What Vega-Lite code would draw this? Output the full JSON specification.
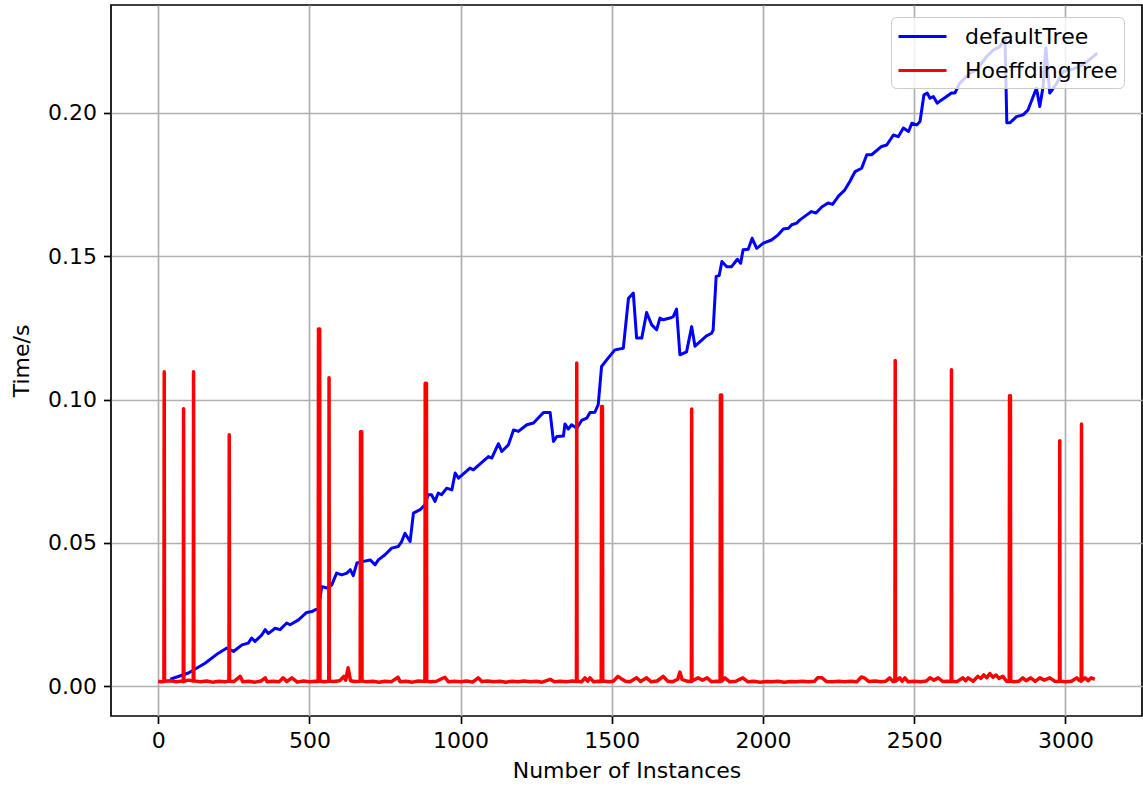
{
  "$schema": "https://vega.github.io/schema/vega-lite/v6.json",
  "autosize": {"type": "none"},
  "padding": {"left": 111, "top": 5, "right": 1, "bottom": 74},
  "width": 1031,
  "height": 711,
  "background": "white",
  "config": {
    "font": "DejaVu Sans",
    "view": {"stroke": "black", "strokeWidth": 1.7},
    "axis": {
      "domain": false,
      "grid": true,
      "gridColor": "#b0b0b0",
      "gridWidth": 1.7,
      "tickColor": "black",
      "tickWidth": 1.7,
      "tickSize": 7.5,
      "labelFont": "DejaVu Sans",
      "labelFontSize": 22,
      "labelColor": "black",
      "labelPadding": 7,
      "titleFont": "DejaVu Sans",
      "titleFontSize": 22,
      "titleFontWeight": "normal",
      "titleColor": "black"
    }
  },
  "datasets": {
    "defaultTree": [
      {"model": "defaultTree", "n": 40, "t": 0.0025},
      {"model": "defaultTree", "n": 100, "t": 0.0047},
      {"model": "defaultTree", "n": 155, "t": 0.0081},
      {"model": "defaultTree", "n": 199, "t": 0.0116},
      {"model": "defaultTree", "n": 227, "t": 0.0134},
      {"model": "defaultTree", "n": 249, "t": 0.0122},
      {"model": "defaultTree", "n": 277, "t": 0.0145},
      {"model": "defaultTree", "n": 298, "t": 0.0151},
      {"model": "defaultTree", "n": 309, "t": 0.0169},
      {"model": "defaultTree", "n": 320, "t": 0.0157},
      {"model": "defaultTree", "n": 343, "t": 0.0180},
      {"model": "defaultTree", "n": 354, "t": 0.0198},
      {"model": "defaultTree", "n": 364, "t": 0.0184},
      {"model": "defaultTree", "n": 387, "t": 0.0203},
      {"model": "defaultTree", "n": 403, "t": 0.0198},
      {"model": "defaultTree", "n": 425, "t": 0.0221},
      {"model": "defaultTree", "n": 436, "t": 0.0215},
      {"model": "defaultTree", "n": 464, "t": 0.0232},
      {"model": "defaultTree", "n": 491, "t": 0.0258},
      {"model": "defaultTree", "n": 508, "t": 0.0261},
      {"model": "defaultTree", "n": 530, "t": 0.0273},
      {"model": "defaultTree", "n": 541, "t": 0.0348},
      {"model": "defaultTree", "n": 558, "t": 0.0343},
      {"model": "defaultTree", "n": 574, "t": 0.0354},
      {"model": "defaultTree", "n": 590, "t": 0.0395},
      {"model": "defaultTree", "n": 607, "t": 0.0389},
      {"model": "defaultTree", "n": 624, "t": 0.0395},
      {"model": "defaultTree", "n": 635, "t": 0.0407},
      {"model": "defaultTree", "n": 645, "t": 0.0386},
      {"model": "defaultTree", "n": 657, "t": 0.0430},
      {"model": "defaultTree", "n": 679, "t": 0.0436},
      {"model": "defaultTree", "n": 701, "t": 0.0441},
      {"model": "defaultTree", "n": 717, "t": 0.0424},
      {"model": "defaultTree", "n": 728, "t": 0.0441},
      {"model": "defaultTree", "n": 750, "t": 0.0459},
      {"model": "defaultTree", "n": 772, "t": 0.0482},
      {"model": "defaultTree", "n": 794, "t": 0.0488},
      {"model": "defaultTree", "n": 805, "t": 0.0505},
      {"model": "defaultTree", "n": 816, "t": 0.0534},
      {"model": "defaultTree", "n": 833, "t": 0.0505},
      {"model": "defaultTree", "n": 844, "t": 0.0604},
      {"model": "defaultTree", "n": 866, "t": 0.0616},
      {"model": "defaultTree", "n": 882, "t": 0.0633},
      {"model": "defaultTree", "n": 893, "t": 0.0668},
      {"model": "defaultTree", "n": 904, "t": 0.0668},
      {"model": "defaultTree", "n": 915, "t": 0.0645},
      {"model": "defaultTree", "n": 926, "t": 0.0674},
      {"model": "defaultTree", "n": 937, "t": 0.0668},
      {"model": "defaultTree", "n": 954, "t": 0.0691},
      {"model": "defaultTree", "n": 971, "t": 0.0685},
      {"model": "defaultTree", "n": 982, "t": 0.0744},
      {"model": "defaultTree", "n": 993, "t": 0.0726},
      {"model": "defaultTree", "n": 1031, "t": 0.0761},
      {"model": "defaultTree", "n": 1042, "t": 0.0755},
      {"model": "defaultTree", "n": 1092, "t": 0.0801},
      {"model": "defaultTree", "n": 1103, "t": 0.0796},
      {"model": "defaultTree", "n": 1125, "t": 0.0846},
      {"model": "defaultTree", "n": 1136, "t": 0.0819},
      {"model": "defaultTree", "n": 1158, "t": 0.0842},
      {"model": "defaultTree", "n": 1175, "t": 0.0894},
      {"model": "defaultTree", "n": 1191, "t": 0.0889},
      {"model": "defaultTree", "n": 1219, "t": 0.0912},
      {"model": "defaultTree", "n": 1241, "t": 0.0918},
      {"model": "defaultTree", "n": 1274, "t": 0.0955},
      {"model": "defaultTree", "n": 1296, "t": 0.0955},
      {"model": "defaultTree", "n": 1307, "t": 0.0854},
      {"model": "defaultTree", "n": 1318, "t": 0.0871},
      {"model": "defaultTree", "n": 1340, "t": 0.0873},
      {"model": "defaultTree", "n": 1345, "t": 0.0915},
      {"model": "defaultTree", "n": 1356, "t": 0.0897},
      {"model": "defaultTree", "n": 1367, "t": 0.0912},
      {"model": "defaultTree", "n": 1384, "t": 0.0900},
      {"model": "defaultTree", "n": 1400, "t": 0.0927},
      {"model": "defaultTree", "n": 1417, "t": 0.0935},
      {"model": "defaultTree", "n": 1428, "t": 0.0955},
      {"model": "defaultTree", "n": 1444, "t": 0.0956},
      {"model": "defaultTree", "n": 1455, "t": 0.0982},
      {"model": "defaultTree", "n": 1466, "t": 0.1115},
      {"model": "defaultTree", "n": 1483, "t": 0.1138},
      {"model": "defaultTree", "n": 1510, "t": 0.1173},
      {"model": "defaultTree", "n": 1538, "t": 0.1179},
      {"model": "defaultTree", "n": 1555, "t": 0.1353},
      {"model": "defaultTree", "n": 1571, "t": 0.1371},
      {"model": "defaultTree", "n": 1582, "t": 0.1214},
      {"model": "defaultTree", "n": 1599, "t": 0.1214},
      {"model": "defaultTree", "n": 1615, "t": 0.1303},
      {"model": "defaultTree", "n": 1632, "t": 0.1260},
      {"model": "defaultTree", "n": 1648, "t": 0.1243},
      {"model": "defaultTree", "n": 1659, "t": 0.1284},
      {"model": "defaultTree", "n": 1670, "t": 0.1278},
      {"model": "defaultTree", "n": 1692, "t": 0.1284},
      {"model": "defaultTree", "n": 1703, "t": 0.1289},
      {"model": "defaultTree", "n": 1714, "t": 0.1315},
      {"model": "defaultTree", "n": 1725, "t": 0.1156},
      {"model": "defaultTree", "n": 1747, "t": 0.1166},
      {"model": "defaultTree", "n": 1764, "t": 0.1254},
      {"model": "defaultTree", "n": 1775, "t": 0.1186},
      {"model": "defaultTree", "n": 1813, "t": 0.1222},
      {"model": "defaultTree", "n": 1830, "t": 0.1231},
      {"model": "defaultTree", "n": 1835, "t": 0.1243},
      {"model": "defaultTree", "n": 1845, "t": 0.1429},
      {"model": "defaultTree", "n": 1855, "t": 0.1432},
      {"model": "defaultTree", "n": 1864, "t": 0.1481},
      {"model": "defaultTree", "n": 1880, "t": 0.1463},
      {"model": "defaultTree", "n": 1896, "t": 0.1463},
      {"model": "defaultTree", "n": 1915, "t": 0.1489},
      {"model": "defaultTree", "n": 1926, "t": 0.1475},
      {"model": "defaultTree", "n": 1934, "t": 0.1522},
      {"model": "defaultTree", "n": 1951, "t": 0.1524},
      {"model": "defaultTree", "n": 1964, "t": 0.1562},
      {"model": "defaultTree", "n": 1979, "t": 0.1527},
      {"model": "defaultTree", "n": 2001, "t": 0.1545},
      {"model": "defaultTree", "n": 2028, "t": 0.1556},
      {"model": "defaultTree", "n": 2050, "t": 0.1574},
      {"model": "defaultTree", "n": 2067, "t": 0.1594},
      {"model": "defaultTree", "n": 2084, "t": 0.1597},
      {"model": "defaultTree", "n": 2095, "t": 0.1609},
      {"model": "defaultTree", "n": 2111, "t": 0.1615},
      {"model": "defaultTree", "n": 2122, "t": 0.1626},
      {"model": "defaultTree", "n": 2140, "t": 0.1640},
      {"model": "defaultTree", "n": 2160, "t": 0.1655},
      {"model": "defaultTree", "n": 2175, "t": 0.1650},
      {"model": "defaultTree", "n": 2195, "t": 0.1672},
      {"model": "defaultTree", "n": 2215, "t": 0.1685},
      {"model": "defaultTree", "n": 2230, "t": 0.1680},
      {"model": "defaultTree", "n": 2250, "t": 0.1710},
      {"model": "defaultTree", "n": 2270, "t": 0.1730},
      {"model": "defaultTree", "n": 2287, "t": 0.1760},
      {"model": "defaultTree", "n": 2304, "t": 0.1794},
      {"model": "defaultTree", "n": 2326, "t": 0.1806},
      {"model": "defaultTree", "n": 2343, "t": 0.1853},
      {"model": "defaultTree", "n": 2359, "t": 0.1853},
      {"model": "defaultTree", "n": 2392, "t": 0.1882},
      {"model": "defaultTree", "n": 2409, "t": 0.1887},
      {"model": "defaultTree", "n": 2431, "t": 0.1922},
      {"model": "defaultTree", "n": 2447, "t": 0.1916},
      {"model": "defaultTree", "n": 2464, "t": 0.1946},
      {"model": "defaultTree", "n": 2481, "t": 0.1934},
      {"model": "defaultTree", "n": 2492, "t": 0.1963},
      {"model": "defaultTree", "n": 2508, "t": 0.1957},
      {"model": "defaultTree", "n": 2519, "t": 0.1969},
      {"model": "defaultTree", "n": 2532, "t": 0.2062},
      {"model": "defaultTree", "n": 2543, "t": 0.2068},
      {"model": "defaultTree", "n": 2552, "t": 0.2050},
      {"model": "defaultTree", "n": 2563, "t": 0.2056},
      {"model": "defaultTree", "n": 2576, "t": 0.2033},
      {"model": "defaultTree", "n": 2590, "t": 0.2044},
      {"model": "defaultTree", "n": 2607, "t": 0.2056},
      {"model": "defaultTree", "n": 2623, "t": 0.2068},
      {"model": "defaultTree", "n": 2634, "t": 0.2068},
      {"model": "defaultTree", "n": 2651, "t": 0.2103},
      {"model": "defaultTree", "n": 2684, "t": 0.2137},
      {"model": "defaultTree", "n": 2706, "t": 0.2149},
      {"model": "defaultTree", "n": 2739, "t": 0.2195},
      {"model": "defaultTree", "n": 2761, "t": 0.2218},
      {"model": "defaultTree", "n": 2783, "t": 0.2230},
      {"model": "defaultTree", "n": 2800, "t": 0.2259},
      {"model": "defaultTree", "n": 2806, "t": 0.1965},
      {"model": "defaultTree", "n": 2817, "t": 0.1965},
      {"model": "defaultTree", "n": 2838, "t": 0.1986},
      {"model": "defaultTree", "n": 2860, "t": 0.1992},
      {"model": "defaultTree", "n": 2876, "t": 0.2009},
      {"model": "defaultTree", "n": 2891, "t": 0.2050},
      {"model": "defaultTree", "n": 2904, "t": 0.2085},
      {"model": "defaultTree", "n": 2915, "t": 0.2021},
      {"model": "defaultTree", "n": 2926, "t": 0.2091},
      {"model": "defaultTree", "n": 2935, "t": 0.2226},
      {"model": "defaultTree", "n": 2948, "t": 0.2068},
      {"model": "defaultTree", "n": 2970, "t": 0.2100},
      {"model": "defaultTree", "n": 2992, "t": 0.2143},
      {"model": "defaultTree", "n": 3020, "t": 0.2150},
      {"model": "defaultTree", "n": 3058, "t": 0.2166},
      {"model": "defaultTree", "n": 3085, "t": 0.2190},
      {"model": "defaultTree", "n": 3105, "t": 0.2207}
    ],
    "hoeffdingTree": [
      {"model": "HoeffdingTree", "n": 0, "t": 0.0018},
      {"model": "HoeffdingTree", "n": 10, "t": 0.0016},
      {"model": "HoeffdingTree", "n": 19, "t": 0.0017},
      {"model": "HoeffdingTree", "n": 20, "t": 0.1097},
      {"model": "HoeffdingTree", "n": 21, "t": 0.0018},
      {"model": "HoeffdingTree", "n": 40, "t": 0.0020},
      {"model": "HoeffdingTree", "n": 60, "t": 0.0016},
      {"model": "HoeffdingTree", "n": 80, "t": 0.0019},
      {"model": "HoeffdingTree", "n": 83, "t": 0.0017},
      {"model": "HoeffdingTree", "n": 84, "t": 0.0968},
      {"model": "HoeffdingTree", "n": 85, "t": 0.0018},
      {"model": "HoeffdingTree", "n": 100, "t": 0.0022},
      {"model": "HoeffdingTree", "n": 116, "t": 0.0019},
      {"model": "HoeffdingTree", "n": 117, "t": 0.1097},
      {"model": "HoeffdingTree", "n": 118, "t": 0.0020},
      {"model": "HoeffdingTree", "n": 140, "t": 0.0016},
      {"model": "HoeffdingTree", "n": 160, "t": 0.0019},
      {"model": "HoeffdingTree", "n": 180, "t": 0.0015},
      {"model": "HoeffdingTree", "n": 200, "t": 0.0018},
      {"model": "HoeffdingTree", "n": 220, "t": 0.0016},
      {"model": "HoeffdingTree", "n": 234, "t": 0.0019},
      {"model": "HoeffdingTree", "n": 235, "t": 0.0877},
      {"model": "HoeffdingTree", "n": 236, "t": 0.0018},
      {"model": "HoeffdingTree", "n": 250, "t": 0.0017},
      {"model": "HoeffdingTree", "n": 271, "t": 0.0035},
      {"model": "HoeffdingTree", "n": 280, "t": 0.0016},
      {"model": "HoeffdingTree", "n": 300, "t": 0.0018},
      {"model": "HoeffdingTree", "n": 320, "t": 0.0015},
      {"model": "HoeffdingTree", "n": 340, "t": 0.0019},
      {"model": "HoeffdingTree", "n": 354, "t": 0.0030},
      {"model": "HoeffdingTree", "n": 360, "t": 0.0016},
      {"model": "HoeffdingTree", "n": 380, "t": 0.0018},
      {"model": "HoeffdingTree", "n": 400, "t": 0.0016},
      {"model": "HoeffdingTree", "n": 413, "t": 0.0030},
      {"model": "HoeffdingTree", "n": 425, "t": 0.0017},
      {"model": "HoeffdingTree", "n": 442, "t": 0.0030},
      {"model": "HoeffdingTree", "n": 460, "t": 0.0015},
      {"model": "HoeffdingTree", "n": 480, "t": 0.0019},
      {"model": "HoeffdingTree", "n": 500, "t": 0.0016},
      {"model": "HoeffdingTree", "n": 520, "t": 0.0018},
      {"model": "HoeffdingTree", "n": 529, "t": 0.0017},
      {"model": "HoeffdingTree", "n": 530, "t": 0.1246},
      {"model": "HoeffdingTree", "n": 534, "t": 0.1246},
      {"model": "HoeffdingTree", "n": 535, "t": 0.0018},
      {"model": "HoeffdingTree", "n": 550, "t": 0.0016},
      {"model": "HoeffdingTree", "n": 564, "t": 0.0018},
      {"model": "HoeffdingTree", "n": 565, "t": 0.1076},
      {"model": "HoeffdingTree", "n": 566, "t": 0.0019},
      {"model": "HoeffdingTree", "n": 580, "t": 0.0017},
      {"model": "HoeffdingTree", "n": 600, "t": 0.0020},
      {"model": "HoeffdingTree", "n": 614, "t": 0.0035},
      {"model": "HoeffdingTree", "n": 620, "t": 0.0022},
      {"model": "HoeffdingTree", "n": 628, "t": 0.0065},
      {"model": "HoeffdingTree", "n": 636, "t": 0.0020},
      {"model": "HoeffdingTree", "n": 650, "t": 0.0017},
      {"model": "HoeffdingTree", "n": 668, "t": 0.0018},
      {"model": "HoeffdingTree", "n": 669, "t": 0.0888},
      {"model": "HoeffdingTree", "n": 673, "t": 0.0888},
      {"model": "HoeffdingTree", "n": 674, "t": 0.0019},
      {"model": "HoeffdingTree", "n": 690, "t": 0.0016},
      {"model": "HoeffdingTree", "n": 710, "t": 0.0018},
      {"model": "HoeffdingTree", "n": 730, "t": 0.0015},
      {"model": "HoeffdingTree", "n": 750, "t": 0.0018},
      {"model": "HoeffdingTree", "n": 770, "t": 0.0016},
      {"model": "HoeffdingTree", "n": 793, "t": 0.0032},
      {"model": "HoeffdingTree", "n": 800, "t": 0.0016},
      {"model": "HoeffdingTree", "n": 820, "t": 0.0018},
      {"model": "HoeffdingTree", "n": 840, "t": 0.0015},
      {"model": "HoeffdingTree", "n": 860, "t": 0.0019},
      {"model": "HoeffdingTree", "n": 882, "t": 0.0017},
      {"model": "HoeffdingTree", "n": 883, "t": 0.1057},
      {"model": "HoeffdingTree", "n": 887, "t": 0.1057},
      {"model": "HoeffdingTree", "n": 888, "t": 0.0018},
      {"model": "HoeffdingTree", "n": 900, "t": 0.0016},
      {"model": "HoeffdingTree", "n": 920, "t": 0.0018},
      {"model": "HoeffdingTree", "n": 948, "t": 0.0032},
      {"model": "HoeffdingTree", "n": 960, "t": 0.0016},
      {"model": "HoeffdingTree", "n": 980, "t": 0.0018},
      {"model": "HoeffdingTree", "n": 1000, "t": 0.0016},
      {"model": "HoeffdingTree", "n": 1020, "t": 0.0019},
      {"model": "HoeffdingTree", "n": 1040, "t": 0.0015},
      {"model": "HoeffdingTree", "n": 1058, "t": 0.0030},
      {"model": "HoeffdingTree", "n": 1070, "t": 0.0017},
      {"model": "HoeffdingTree", "n": 1090, "t": 0.0019},
      {"model": "HoeffdingTree", "n": 1110, "t": 0.0016},
      {"model": "HoeffdingTree", "n": 1130, "t": 0.0018},
      {"model": "HoeffdingTree", "n": 1150, "t": 0.0015},
      {"model": "HoeffdingTree", "n": 1170, "t": 0.0018},
      {"model": "HoeffdingTree", "n": 1190, "t": 0.0016},
      {"model": "HoeffdingTree", "n": 1210, "t": 0.0019},
      {"model": "HoeffdingTree", "n": 1230, "t": 0.0016},
      {"model": "HoeffdingTree", "n": 1250, "t": 0.0018},
      {"model": "HoeffdingTree", "n": 1270, "t": 0.0015},
      {"model": "HoeffdingTree", "n": 1296, "t": 0.0025},
      {"model": "HoeffdingTree", "n": 1310, "t": 0.0016},
      {"model": "HoeffdingTree", "n": 1330, "t": 0.0018},
      {"model": "HoeffdingTree", "n": 1350, "t": 0.0016},
      {"model": "HoeffdingTree", "n": 1370, "t": 0.0019},
      {"model": "HoeffdingTree", "n": 1383, "t": 0.0017},
      {"model": "HoeffdingTree", "n": 1384, "t": 0.1127},
      {"model": "HoeffdingTree", "n": 1385, "t": 0.0018},
      {"model": "HoeffdingTree", "n": 1400, "t": 0.0016},
      {"model": "HoeffdingTree", "n": 1411, "t": 0.0030},
      {"model": "HoeffdingTree", "n": 1420, "t": 0.0018},
      {"model": "HoeffdingTree", "n": 1428, "t": 0.0030},
      {"model": "HoeffdingTree", "n": 1440, "t": 0.0016},
      {"model": "HoeffdingTree", "n": 1455, "t": 0.0018},
      {"model": "HoeffdingTree", "n": 1465, "t": 0.0017},
      {"model": "HoeffdingTree", "n": 1466, "t": 0.0976},
      {"model": "HoeffdingTree", "n": 1469, "t": 0.0976},
      {"model": "HoeffdingTree", "n": 1470, "t": 0.0019},
      {"model": "HoeffdingTree", "n": 1490, "t": 0.0016},
      {"model": "HoeffdingTree", "n": 1505, "t": 0.0018},
      {"model": "HoeffdingTree", "n": 1520, "t": 0.0035},
      {"model": "HoeffdingTree", "n": 1530, "t": 0.0028},
      {"model": "HoeffdingTree", "n": 1545, "t": 0.0018},
      {"model": "HoeffdingTree", "n": 1560, "t": 0.0016},
      {"model": "HoeffdingTree", "n": 1582, "t": 0.0030},
      {"model": "HoeffdingTree", "n": 1595, "t": 0.0017},
      {"model": "HoeffdingTree", "n": 1615, "t": 0.0030},
      {"model": "HoeffdingTree", "n": 1630, "t": 0.0016},
      {"model": "HoeffdingTree", "n": 1650, "t": 0.0019},
      {"model": "HoeffdingTree", "n": 1670, "t": 0.0035},
      {"model": "HoeffdingTree", "n": 1685, "t": 0.0018},
      {"model": "HoeffdingTree", "n": 1700, "t": 0.0016},
      {"model": "HoeffdingTree", "n": 1718, "t": 0.0025},
      {"model": "HoeffdingTree", "n": 1725, "t": 0.0050},
      {"model": "HoeffdingTree", "n": 1732, "t": 0.0025},
      {"model": "HoeffdingTree", "n": 1750, "t": 0.0018},
      {"model": "HoeffdingTree", "n": 1763, "t": 0.0017},
      {"model": "HoeffdingTree", "n": 1764, "t": 0.0967},
      {"model": "HoeffdingTree", "n": 1765, "t": 0.0019},
      {"model": "HoeffdingTree", "n": 1785, "t": 0.0030},
      {"model": "HoeffdingTree", "n": 1800, "t": 0.0022},
      {"model": "HoeffdingTree", "n": 1815, "t": 0.0030},
      {"model": "HoeffdingTree", "n": 1830, "t": 0.0016},
      {"model": "HoeffdingTree", "n": 1845, "t": 0.0018},
      {"model": "HoeffdingTree", "n": 1858, "t": 0.0017},
      {"model": "HoeffdingTree", "n": 1859, "t": 0.1016},
      {"model": "HoeffdingTree", "n": 1863, "t": 0.1016},
      {"model": "HoeffdingTree", "n": 1864, "t": 0.0019},
      {"model": "HoeffdingTree", "n": 1874, "t": 0.0030},
      {"model": "HoeffdingTree", "n": 1890, "t": 0.0016},
      {"model": "HoeffdingTree", "n": 1910, "t": 0.0018},
      {"model": "HoeffdingTree", "n": 1933, "t": 0.0030},
      {"model": "HoeffdingTree", "n": 1950, "t": 0.0016},
      {"model": "HoeffdingTree", "n": 1970, "t": 0.0018},
      {"model": "HoeffdingTree", "n": 1990, "t": 0.0015},
      {"model": "HoeffdingTree", "n": 2010, "t": 0.0017},
      {"model": "HoeffdingTree", "n": 2030, "t": 0.0016},
      {"model": "HoeffdingTree", "n": 2050, "t": 0.0018},
      {"model": "HoeffdingTree", "n": 2070, "t": 0.0015},
      {"model": "HoeffdingTree", "n": 2090, "t": 0.0017},
      {"model": "HoeffdingTree", "n": 2110, "t": 0.0016},
      {"model": "HoeffdingTree", "n": 2130, "t": 0.0018},
      {"model": "HoeffdingTree", "n": 2150, "t": 0.0016},
      {"model": "HoeffdingTree", "n": 2170, "t": 0.0018},
      {"model": "HoeffdingTree", "n": 2180, "t": 0.0030},
      {"model": "HoeffdingTree", "n": 2195, "t": 0.0030},
      {"model": "HoeffdingTree", "n": 2210, "t": 0.0017},
      {"model": "HoeffdingTree", "n": 2230, "t": 0.0016},
      {"model": "HoeffdingTree", "n": 2250, "t": 0.0018},
      {"model": "HoeffdingTree", "n": 2270, "t": 0.0016},
      {"model": "HoeffdingTree", "n": 2290, "t": 0.0018},
      {"model": "HoeffdingTree", "n": 2310, "t": 0.0016},
      {"model": "HoeffdingTree", "n": 2325, "t": 0.0033},
      {"model": "HoeffdingTree", "n": 2335, "t": 0.0030},
      {"model": "HoeffdingTree", "n": 2350, "t": 0.0017},
      {"model": "HoeffdingTree", "n": 2370, "t": 0.0019},
      {"model": "HoeffdingTree", "n": 2390, "t": 0.0016},
      {"model": "HoeffdingTree", "n": 2405, "t": 0.0018},
      {"model": "HoeffdingTree", "n": 2419, "t": 0.0030},
      {"model": "HoeffdingTree", "n": 2430, "t": 0.0017},
      {"model": "HoeffdingTree", "n": 2436, "t": 0.0018},
      {"model": "HoeffdingTree", "n": 2437, "t": 0.1136},
      {"model": "HoeffdingTree", "n": 2438, "t": 0.0019},
      {"model": "HoeffdingTree", "n": 2452, "t": 0.0030},
      {"model": "HoeffdingTree", "n": 2460, "t": 0.0018},
      {"model": "HoeffdingTree", "n": 2469, "t": 0.0030},
      {"model": "HoeffdingTree", "n": 2480, "t": 0.0016},
      {"model": "HoeffdingTree", "n": 2500, "t": 0.0018},
      {"model": "HoeffdingTree", "n": 2520, "t": 0.0016},
      {"model": "HoeffdingTree", "n": 2540, "t": 0.0019},
      {"model": "HoeffdingTree", "n": 2552, "t": 0.0030},
      {"model": "HoeffdingTree", "n": 2565, "t": 0.0022},
      {"model": "HoeffdingTree", "n": 2579, "t": 0.0030},
      {"model": "HoeffdingTree", "n": 2595, "t": 0.0017},
      {"model": "HoeffdingTree", "n": 2610, "t": 0.0018},
      {"model": "HoeffdingTree", "n": 2622, "t": 0.0017},
      {"model": "HoeffdingTree", "n": 2623, "t": 0.1104},
      {"model": "HoeffdingTree", "n": 2624, "t": 0.0018},
      {"model": "HoeffdingTree", "n": 2640, "t": 0.0016},
      {"model": "HoeffdingTree", "n": 2661, "t": 0.0030},
      {"model": "HoeffdingTree", "n": 2670, "t": 0.0020},
      {"model": "HoeffdingTree", "n": 2678, "t": 0.0030},
      {"model": "HoeffdingTree", "n": 2695, "t": 0.0018},
      {"model": "HoeffdingTree", "n": 2710, "t": 0.0035},
      {"model": "HoeffdingTree", "n": 2720, "t": 0.0028},
      {"model": "HoeffdingTree", "n": 2730, "t": 0.0040},
      {"model": "HoeffdingTree", "n": 2740, "t": 0.0030},
      {"model": "HoeffdingTree", "n": 2750, "t": 0.0045},
      {"model": "HoeffdingTree", "n": 2760, "t": 0.0032},
      {"model": "HoeffdingTree", "n": 2770, "t": 0.0040},
      {"model": "HoeffdingTree", "n": 2780, "t": 0.0028},
      {"model": "HoeffdingTree", "n": 2793, "t": 0.0035},
      {"model": "HoeffdingTree", "n": 2805, "t": 0.0018},
      {"model": "HoeffdingTree", "n": 2814, "t": 0.0017},
      {"model": "HoeffdingTree", "n": 2815, "t": 0.1013},
      {"model": "HoeffdingTree", "n": 2818, "t": 0.1013},
      {"model": "HoeffdingTree", "n": 2819, "t": 0.0019},
      {"model": "HoeffdingTree", "n": 2830, "t": 0.0016},
      {"model": "HoeffdingTree", "n": 2845, "t": 0.0018},
      {"model": "HoeffdingTree", "n": 2859, "t": 0.0030},
      {"model": "HoeffdingTree", "n": 2870, "t": 0.0020},
      {"model": "HoeffdingTree", "n": 2885, "t": 0.0030},
      {"model": "HoeffdingTree", "n": 2900, "t": 0.0018},
      {"model": "HoeffdingTree", "n": 2915, "t": 0.0030},
      {"model": "HoeffdingTree", "n": 2930, "t": 0.0022},
      {"model": "HoeffdingTree", "n": 2948, "t": 0.0030},
      {"model": "HoeffdingTree", "n": 2965, "t": 0.0018},
      {"model": "HoeffdingTree", "n": 2980, "t": 0.0017},
      {"model": "HoeffdingTree", "n": 2981, "t": 0.0856},
      {"model": "HoeffdingTree", "n": 2982, "t": 0.0019},
      {"model": "HoeffdingTree", "n": 3000, "t": 0.0016},
      {"model": "HoeffdingTree", "n": 3020, "t": 0.0018},
      {"model": "HoeffdingTree", "n": 3037, "t": 0.0030},
      {"model": "HoeffdingTree", "n": 3045, "t": 0.0022},
      {"model": "HoeffdingTree", "n": 3052, "t": 0.0018},
      {"model": "HoeffdingTree", "n": 3053, "t": 0.0915},
      {"model": "HoeffdingTree", "n": 3054, "t": 0.0020},
      {"model": "HoeffdingTree", "n": 3065, "t": 0.0030},
      {"model": "HoeffdingTree", "n": 3075, "t": 0.0020},
      {"model": "HoeffdingTree", "n": 3085, "t": 0.0030},
      {"model": "HoeffdingTree", "n": 3097, "t": 0.0025}
    ]
  },
  "encoding": {
    "x": {
      "field": "n",
      "type": "quantitative",
      "title": "Number of Instances",
      "scale": {"domain": [-156, 3253], "nice": false, "zero": false},
      "axis": {"values": [0, 500, 1000, 1500, 2000, 2500, 3000], "format": "d", "titlePadding": 9}
    },
    "y": {
      "field": "t",
      "type": "quantitative",
      "title": "Time/s",
      "scale": {"domain": [-0.0103, 0.2375], "nice": false, "zero": false},
      "axis": {"values": [0, 0.05, 0.1, 0.15, 0.2], "format": ".2f", "titlePadding": 14}
    },
    "color": {
      "field": "model",
      "type": "nominal",
      "scale": {"domain": ["defaultTree", "HoeffdingTree"], "range": ["#0000ff", "#ff0000"]},
      "legend": {
        "title": null,
        "orient": "none",
        "legendX": 780,
        "legendY": 12,
        "symbolType": "M-1,0H3",
        "symbolSize": 576,
        "symbolStrokeWidth": 3,
        "labelFont": "DejaVu Sans",
        "labelFontSize": 22,
        "labelColor": "black",
        "labelOffset": 41,
        "labelLimit": 400,
        "padding": 6,
        "rowPadding": 9,
        "fillColor": "rgba(255,255,255,0.8)",
        "strokeColor": "#cccccc",
        "cornerRadius": 5
      }
    }
  },
  "layer": [
    {
      "data": {"name": "defaultTree"},
      "mark": {"type": "line", "strokeWidth": 3, "strokeJoin": "round", "clip": true}
    },
    {
      "data": {"name": "hoeffdingTree"},
      "mark": {"type": "line", "strokeWidth": 3.5, "strokeJoin": "round", "clip": true}
    }
  ]
}
